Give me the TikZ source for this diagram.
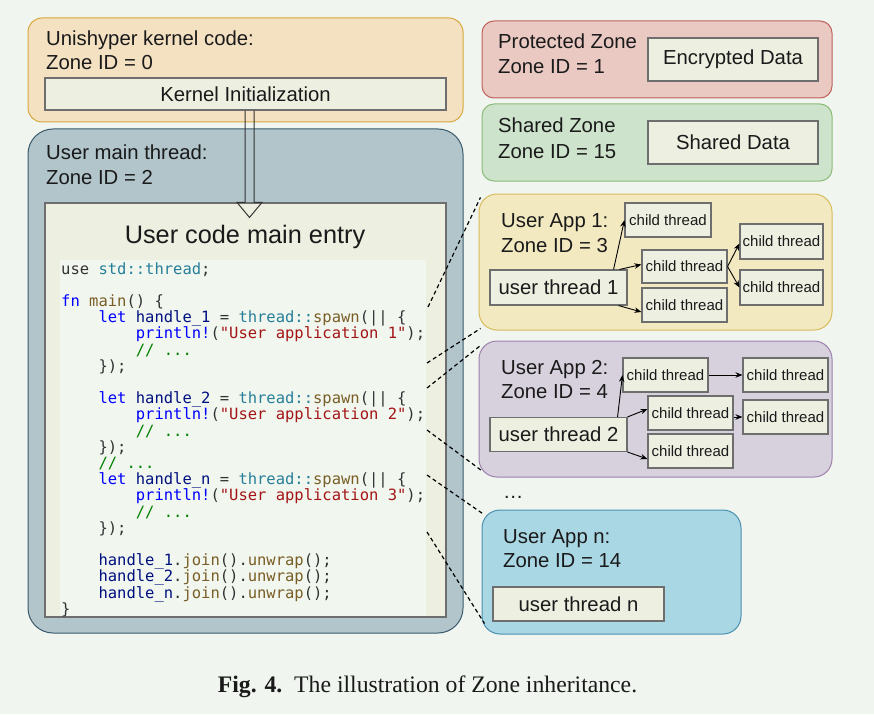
\documentclass[tikz,border=0pt]{standalone}
\usepackage{fontspec}
\setmainfont{Liberation Sans}
\newfontfamily\capfont{Liberation Serif}
\newfontfamily\codefont{DejaVu Sans Mono}
\usepackage{xcolor}
\usetikzlibrary{arrows.meta}

\definecolor{bgcol}{HTML}{F0F5EF}
\definecolor{kernfill}{HTML}{F3E1C2}
\definecolor{kernline}{HTML}{D9A83C}
\definecolor{mainfill}{HTML}{B1C5CB}
\definecolor{mainline}{HTML}{3A5A6C}
\definecolor{protfill}{HTML}{EAC9C3}
\definecolor{protline}{HTML}{BF625C}
\definecolor{sharefill}{HTML}{CDE3CB}
\definecolor{shareline}{HTML}{8CBC78}
\definecolor{appafill}{HTML}{F2E9C1}
\definecolor{appaline}{HTML}{D8BB5C}
\definecolor{appbfill}{HTML}{D7D1DD}
\definecolor{appbline}{HTML}{9E80AE}
\definecolor{appnfill}{HTML}{AAD7E4}
\definecolor{appnline}{HTML}{4A90B0}
\definecolor{boxfill}{HTML}{EDEFE1}
\definecolor{boxline}{HTML}{6E6E6E}
\definecolor{codebg}{HTML}{F1F6EF}
\definecolor{codeplain}{HTML}{333333}
\definecolor{codekw}{HTML}{0000FF}
\definecolor{codefn}{HTML}{795E26}
\definecolor{codety}{HTML}{267F99}
\definecolor{codevar}{HTML}{001080}
\definecolor{codestr}{HTML}{A31515}
\definecolor{codecom}{HTML}{008000}
\definecolor{txt}{HTML}{1A1A1A}

\newcommand{\rkw}{\color{codekw}}
\newcommand{\rfn}{\color{codefn}}
\newcommand{\rty}{\color{codety}}
\newcommand{\rvar}{\color{codevar}}
\newcommand{\rstr}{\color{codestr}}
\newcommand{\rcom}{\color{codecom}}
\newcommand{\codeind}{\phantom{0000}}
\newcommand{\codeline}[1]{\hbox{#1}}

\begin{document}
\begin{tikzpicture}[x=1pt,y=-1pt,text=txt,
	zone/.style={draw,line width=1pt,inner sep=0pt},
	box/.style={draw=boxline,fill=boxfill,line width=1.1pt,inner sep=0pt},
	lbl/.style={anchor=base west,inner sep=0pt,font=\fontsize{20.3}{24}\selectfont},
	child/.style={box,font=\fontsize{15}{18}\selectfont,minimum width=85pt,minimum height=34pt},
	uthread/.style={box,font=\fontsize{20.3}{24}\selectfont,minimum width=137pt,minimum height=34pt},
	spawn/.style={-{Stealth[length=7pt,width=5.5pt]},line width=0.9pt},
	link/.style={line width=1.2pt,dash pattern=on 4pt off 3pt}]
	\fill[bgcol] (0,0) rectangle (874,714);
	\useasboundingbox (0,0) rectangle (874,714);

	% kernel zone
	\node[zone,fill=kernfill,draw=kernline,rounded corners=14pt,minimum width=435pt,minimum height=104pt] (kernel) at (245.5,70) {};
	\node[lbl] (kerneltitle) at (46,46) {Unishyper kernel code:};
	\node[lbl] (kernelid) at (46,70) {Zone ID = 0};
	\node[box,font=\fontsize{20.3}{24}\selectfont,minimum width=401pt,minimum height=32pt] (kinit) at (245.5,94) {Kernel Initialization};

	% user main thread
	\node[zone,fill=mainfill,draw=mainline,rounded corners=25pt,minimum width=435pt,minimum height=504pt] (mainthr) at (245.5,381) {};
	\node[lbl] (maintitle) at (46,160) {User main thread:};
	\node[lbl] (mainid) at (46,184) {Zone ID = 2};
	\node[box,minimum width=401pt,minimum height=414pt] (entry) at (245.5,410) {};
	\node[anchor=base,inner sep=0pt,font=\fontsize{25.3}{29}\selectfont] (entrytitle) at (245,243) {User code main entry};
	\node[fill=codebg,inner sep=0pt,minimum width=366pt,minimum height=356pt] (codebox) at (243,438) {};
	\node[anchor=base west,inner sep=0pt,text=codeplain,font=\codefont\fontsize{15.5}{16.2}\selectfont] (code) at (61,274) {\vtop{\baselineskip=16.2pt\lineskiplimit=-100pt
		\codeline{use {\rty std::thread};}
		\codeline{}
		\codeline{{\rkw fn} {\rfn main}() \{}
		\codeline{\codeind{\rkw let} {\rvar handle\_1} = {\rty thread::}{\rfn spawn}(|| \{}
		\codeline{\codeind\codeind{\rkw println!}({\rstr "User application 1"});}
		\codeline{\codeind\codeind{\rcom // ...}}
		\codeline{\codeind\});}
		\codeline{}
		\codeline{\codeind{\rkw let} {\rvar handle\_2} = {\rty thread::}{\rfn spawn}(|| \{}
		\codeline{\codeind\codeind{\rkw println!}({\rstr "User application 2"});}
		\codeline{\codeind\codeind{\rcom // ...}}
		\codeline{\codeind\});}
		\codeline{\codeind{\rcom // ...}}
		\codeline{\codeind{\rkw let} {\rvar handle\_n} = {\rty thread::}{\rfn spawn}(|| \{}
		\codeline{\codeind\codeind{\rkw println!}({\rstr "User application 3"});}
		\codeline{\codeind\codeind{\rcom // ...}}
		\codeline{\codeind\});}
		\codeline{}
		\codeline{\codeind{\rvar handle\_1}.{\rfn join}().{\rfn unwrap}();}
		\codeline{\codeind{\rvar handle\_2}.{\rfn join}().{\rfn unwrap}();}
		\codeline{\codeind{\rvar handle\_n}.{\rfn join}().{\rfn unwrap}();}
		\codeline{\}}}};

	% hollow arrow kernel -> main entry
	\coordinate (arrtop) at ([xshift=4pt]kinit.south);
	\coordinate (arrtip) at ([xshift=4pt,yshift=-15pt]entry.north);
	\draw[line width=1pt,draw=codeplain] ([xshift=-4.5pt]arrtop) -- ([xshift=-4.5pt,yshift=15pt]arrtip) -- ([xshift=-12.5pt,yshift=15pt]arrtip) -- (arrtip) -- ([xshift=12.5pt,yshift=15pt]arrtip) -- ([xshift=4.5pt,yshift=15pt]arrtip) -- ([xshift=4.5pt]arrtop);

	% protected and shared zones
	\node[zone,fill=protfill,draw=protline,rounded corners=12pt,minimum width=350pt,minimum height=77pt] (prot) at (657,59.5) {};
	\node[lbl] (prottitle) at (498,49) {Protected Zone};
	\node[lbl] (protid) at (498,74) {Zone ID = 1};
	\node[box,font=\fontsize{20.3}{24}\selectfont,minimum width=170pt,minimum height=43pt] (encdata) at (733,59.5) {Encrypted Data};
	\node[zone,fill=sharefill,draw=shareline,rounded corners=12pt,minimum width=350pt,minimum height=77pt] (share) at (657,142.5) {};
	\node[lbl] (sharetitle) at (498,133) {Shared Zone};
	\node[lbl] (shareid) at (498,158) {Zone ID = 15};
	\node[box,font=\fontsize{20.3}{24}\selectfont,minimum width=170pt,minimum height=43pt] (sharedata) at (733,142.5) {Shared Data};

	% user app 1
	\node[zone,fill=appafill,draw=appaline,rounded corners=18pt,minimum width=353pt,minimum height=136pt] (appa) at (655.5,262) {};
	\node[lbl] (appatitle) at (501,227) {User App 1:};
	\node[lbl] (appaid) at (501,252) {Zone ID = 3};
	\node[uthread,minimum height=35pt] (uta) at (558.5,287.5) {user thread 1};
	\node[child,minimum width=86pt] (caa) at (668,220) {child thread};
	\node[child,minimum height=33pt] (cab) at (684.5,266.5) {child thread};
	\node[child] (cac) at (684.5,305) {child thread};
	\node[child,minimum width=83pt,minimum height=35pt] (cad) at (781.5,241.5) {child thread};
	\node[child,minimum width=83pt,minimum height=35pt] (cae) at (781.5,287.5) {child thread};
	\draw[spawn] ([xshift=-14pt]uta.north east) -- (caa.west);
	\draw[spawn] ([xshift=-8pt]uta.north east) -- ([yshift=2pt]cab.west);
	\draw[spawn] ([xshift=-9pt]uta.south east) -- ([yshift=-7pt]cac.west);
	\draw[spawn] (cab.east) -- ([yshift=-2pt]cad.west);
	\draw[spawn] (cab.east) -- (cae.west);

	% user app 2
	\node[zone,fill=appbfill,draw=appbline,rounded corners=18pt,minimum width=353pt,minimum height=136pt] (appb) at (655.5,409) {};
	\node[lbl] (appbtitle) at (501,374) {User App 2:};
	\node[lbl] (appbid) at (501,398) {Zone ID = 4};
	\node[uthread] (utb) at (558.5,434.5) {user thread 2};
	\node[child] (cba) at (665.5,375) {child thread};
	\node[child] (cbb) at (690.5,413) {child thread};
	\node[child] (cbc) at (690.5,451) {child thread};
	\node[child] (cbd) at (785.5,375) {child thread};
	\node[child] (cbe) at (785.5,417) {child thread};
	\draw[spawn] ([xshift=-10pt]utb.north east) -- (cba.west);
	\draw[spawn] (utb.north east) -- ([yshift=4pt]cbb.west);
	\draw[spawn] (utb.south east) -- ([yshift=-8pt]cbc.west);
	\draw[spawn] (cba.east) -- (cbd.west);
	\draw[spawn] ([yshift=-4pt]cbb.east) -- (cbe.west);

	\node[lbl] (dots) at (503,498) {…};

	% user app n
	\node[zone,fill=appnfill,draw=appnline,rounded corners=18pt,minimum width=259pt,minimum height=124pt] (appn) at (611.5,572) {};
	\node[lbl] (appntitle) at (503,543) {User App n:};
	\node[lbl] (appnid) at (503,567) {Zone ID = 14};
	\node[uthread,minimum width=171pt] (utn) at (578.5,604) {user thread n};

	% links from the code to the zones
	\coordinate (spa) at (428,307);
	\coordinate (spb) at (427,363);
	\coordinate (spc) at (427,388);
	\coordinate (spd) at (427,430);
	\coordinate (spe) at (427,475);
	\coordinate (spf) at (427,532);
	\draw[link] (spa) -- ([shift={(2pt,-4pt)}]appa.north west);
	\draw[link] (spb) -- ([shift={(2pt,2pt)}]appa.south west);
	\draw[link] (spc) -- ([shift={(2pt,-5pt)}]appb.north west);
	\draw[link] (spd) -- ([shift={(3pt,7pt)}]appb.south west);
	\draw[link] (spe) -- ([shift={(1pt,-4pt)}]appn.north west);
	\draw[link] (spf) -- ([shift={(3pt,11pt)}]appn.south west);

	\node[anchor=base,inner sep=0pt,font=\capfont\fontsize{23.7}{27}\selectfont] (caption) at (427.5,692) {\textbf{Fig. 4.}\hspace{0.5em}The illustration of Zone inheritance.};
\end{tikzpicture}
\end{document}
